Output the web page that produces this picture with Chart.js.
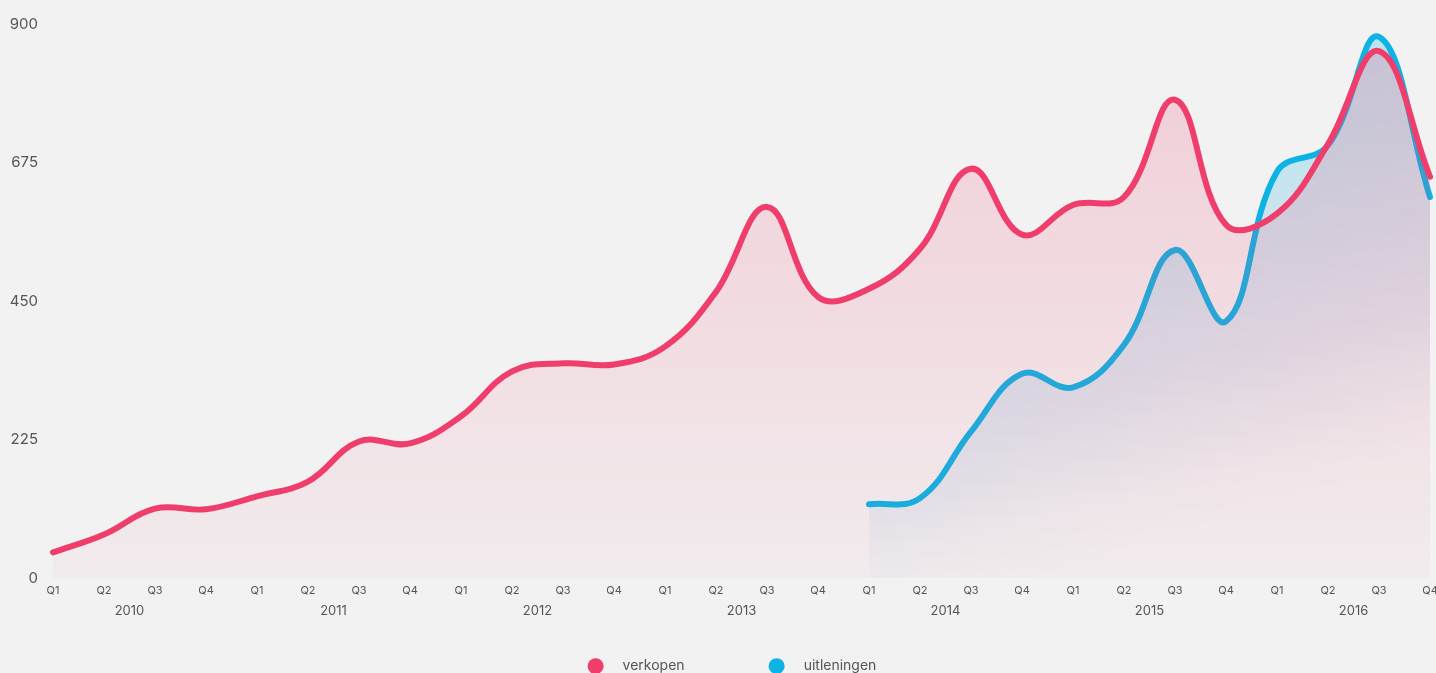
<!DOCTYPE html>
<html>
<head>
<meta charset="utf-8">
<script src="https://cdn.jsdelivr.net/npm/chart.js@4.4.1/dist/chart.umd.min.js"></script>
<style>
  html, body { margin: 0; padding: 0; background: #f2f2f2; overflow: hidden; }
  #wrap { position: relative; width: 1436px; height: 673px; }
</style>
</head>
<body>
<div id="wrap"><canvas id="myChart"></canvas></div>
<script>
//! Les labels.
const quarters = [
  'Q1', 'Q2', 'Q3', 'Q4', 'Q1', 'Q2', 'Q3', 'Q4', 'Q1', 'Q2', 'Q3', 'Q4', 'Q1', 'Q2',
  'Q3', 'Q4', 'Q1', 'Q2', 'Q3', 'Q4', 'Q1', 'Q2', 'Q3', 'Q4', 'Q1', 'Q2', 'Q3', 'Q4',
];
const years = ['2010', '2011', '2012', '2013', '2014', '2015', '2016'];
const yTicks = [0, 225, 450, 675, 900];
//! ---------------------------------

//! Les datas.
const verkopen = [
  42, 71, 113, 112,
  133, 157, 222, 219,
  263, 336, 349, 347,
  376, 465, 603, 457,
  470, 535, 665, 558,
  606, 619, 777, 574,
  592, 705, 856, 652,
];
const uitleningen = [
  null, null, null, null,
  null, null, null, null,
  null, null, null, null,
  null, null, null, null,
  120, 130, 238, 332,
  310, 379, 533, 417,
  660, 703, 879, 619,
];
//! ---------------------------------

const pink = '#ef3e6c';
const blue = '#0db3e5';
const textColor = '#555';
const fontFamily = 'Inter, "Noto Sans", sans-serif';

// gradient rose (vertical)
function pinkFill(context) {
  const { chart } = context;
  const area = chart.chartArea;
  if (!area) return 'rgba(239,62,108,0.12)';
  const g = chart.ctx.createLinearGradient(0, area.top, 0, area.bottom);
  g.addColorStop(0, 'rgba(239,62,108,0.21)');
  g.addColorStop(1, 'rgba(239,62,108,0.035)');
  return g;
}

// gradient bleu (diagonal, s'efface vers le bas a droite)
function blueFill(context) {
  const { chart } = context;
  const area = chart.chartArea;
  if (!area) return 'rgba(13,179,229,0.15)';
  const x0 = chart.scales.x.getPixelForValue(16);
  const g = chart.ctx.createLinearGradient(x0, area.top, x0 + 170, area.bottom);
  g.addColorStop(0, 'rgba(13,179,229,0.3)');
  g.addColorStop(0.45, 'rgba(13,179,229,0.2)');
  g.addColorStop(0.75, 'rgba(40,130,200,0.1)');
  g.addColorStop(0.92, 'rgba(40,130,200,0.02)');
  g.addColorStop(1, 'rgba(40,130,200,0)');
  return g;
}

//! La legende (cercles + texte).
const dotLegend = {
  id: 'dotLegend',
  afterDraw(chart) {
    const { ctx, width } = chart;
    const y = chart.chartArea.bottom + 88;
    ctx.save();
    ctx.font = '14px ' + fontFamily;
    ctx.textBaseline = 'middle';
    const items = chart.data.datasets.map((ds) => ({
      text: ds.label,
      color: ds.borderColor,
      w: 16 + 19 + ctx.measureText(ds.label).width,
    }));
    const spacing = 84;
    const total = items.reduce((s, it) => s + it.w, 0) + spacing * (items.length - 1);
    let x = width / 2 + 14 - total / 2;
    items.forEach((it) => {
      ctx.fillStyle = it.color;
      ctx.beginPath();
      ctx.arc(x + 8, y, 8, 0, Math.PI * 2);
      ctx.fill();
      ctx.fillStyle = textColor;
      ctx.fillText(it.text, x + 35, y);
      x += it.w + spacing;
    });
    ctx.restore();
  },
};
//! ---------------------------------

const ctx = document.getElementById('myChart').getContext('2d');

const data = {
  labels: quarters,
  datasets: [
    {
      label: 'verkopen',
      data: verkopen,
      borderColor: pink,
      backgroundColor: pinkFill,
      borderWidth: 6,
      borderCapStyle: 'round',
      pointRadius: 0,
      tension: 0.4,
      fill: 'origin',
    },
    {
      label: 'uitleningen',
      data: uitleningen,
      borderColor: blue,
      backgroundColor: blueFill,
      borderWidth: 6,
      borderCapStyle: 'round',
      pointRadius: 0,
      tension: 0.4,
      fill: 'origin',
    },
  ],
};

const options = {
  responsive: true,
  maintainAspectRatio: false,
  animation: false,
  layout: { padding: { top: 13, right: 6, bottom: 54, left: 0 } },
  plugins: {
    legend: { display: false },
    tooltip: { enabled: false },
  },
  scales: {
    x: {
      type: 'category',
      position: 'bottom',
      weight: 0,
      grid: { display: false, drawTicks: false },
      border: { display: false },
      afterFit: (axis) => {
        axis.paddingLeft = 0;
        axis.paddingRight = 0;
      },
      ticks: {
        autoSkip: false,
        maxRotation: 0,
        padding: 6,
        color: textColor,
        font: { family: fontFamily, size: 11 },
      },
    },
    years: {
      type: 'linear',
      position: 'bottom',
      axis: 'x',
      weight: 1,
      min: 0,
      max: quarters.length - 1,
      grid: { display: false, drawTicks: false },
      border: { display: false },
      afterBuildTicks: (axis) => {
        axis.ticks = years.map((y, i) => ({ value: i * 4 + 1.5 }));
      },
      afterFit: (axis) => {
        axis.paddingLeft = 0;
        axis.paddingRight = 0;
      },
      ticks: {
        autoSkip: false,
        maxRotation: 0,
        padding: 0,
        color: textColor,
        font: { family: fontFamily, size: 13 },
        callback: (value) => years[Math.round((value - 1.5) / 4)],
      },
    },
    y: {
      min: 0,
      max: 900,
      grid: { display: false, drawTicks: false },
      border: { display: false },
      afterBuildTicks: (axis) => {
        axis.ticks = yTicks.map((v) => ({ value: v }));
      },
      afterFit: (axis) => {
        axis.width = 53;
      },
      ticks: {
        padding: 15,
        color: textColor,
        font: { family: fontFamily, size: 15 },
      },
    },
  },
};

const myChart = new Chart(ctx, {
  type: 'line',
  data,
  options,
  plugins: [dotLegend],
});
</script>
</body>
</html>
